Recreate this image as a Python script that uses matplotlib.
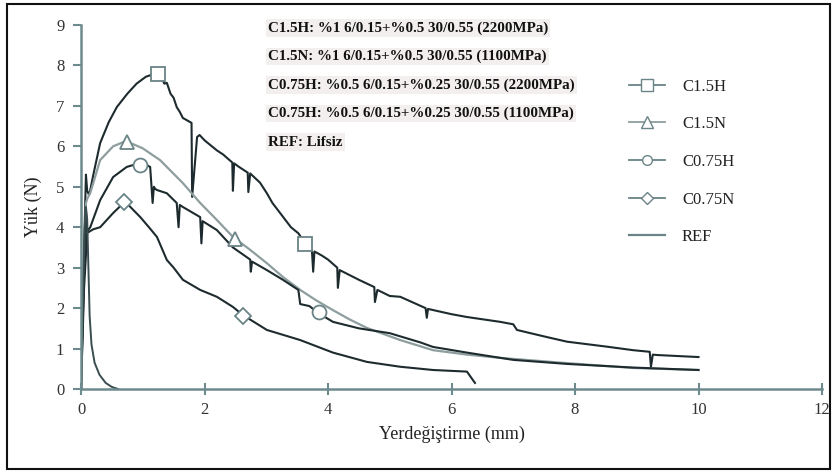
import matplotlib
matplotlib.use("Agg")
import matplotlib.pyplot as plt
from matplotlib.lines import Line2D
from matplotlib.patches import Rectangle

# ---------------- data ----------------
c15h_x = [0, 0.05, 0.08, 0.1, 0.13, 0.15, 0.2, 0.31, 0.45, 0.58, 0.75, 0.9, 1.05, 1.2, 1.25, 1.3, 1.35,
          1.39, 1.45, 1.5, 1.55, 1.6, 1.65, 1.71, 1.79, 1.8, 1.88, 1.92, 2.0, 2.2, 2.3, 2.45, 2.46, 2.48,
          2.55, 2.65, 2.7, 2.71, 2.74, 2.9, 3.01, 3.1, 3.27, 3.4, 3.52, 3.63, 3.74, 3.76, 3.78, 3.9, 4.0,
          4.15, 4.16, 4.19, 4.5, 4.75, 4.76, 4.8, 5.0, 5.17, 5.58, 5.6, 5.62, 6.0, 6.25, 6.79, 7.0, 7.06,
          7.5, 7.87, 8.5, 8.94, 9.21, 9.23, 9.26, 9.33, 10.0]
c15h_y = [0, 3.5, 5.3, 4.9, 4.8, 4.92, 5.3, 6.08, 6.6, 6.97, 7.3, 7.55, 7.72, 7.8, 7.78, 7.7, 7.55,
          7.57, 7.3, 7.2, 6.97, 6.85, 6.7, 6.65, 6.58, 4.75, 6.23, 6.28, 6.15, 5.9, 5.8, 5.6, 4.9, 5.58,
          5.5, 5.4, 5.35, 4.87, 5.33, 5.1, 4.84, 4.6, 4.26, 4.0, 3.85, 3.6, 3.42, 2.9, 3.4, 3.3, 3.2,
          3.0, 2.5, 2.94, 2.7, 2.52, 2.15, 2.45, 2.3, 2.28, 2.0, 1.76, 1.98, 1.85, 1.78, 1.66, 1.6, 1.46,
          1.3, 1.17, 1.05, 0.96, 0.92, 0.55, 0.85, 0.84, 0.79]

c15n_x = [0, 0.05, 0.08, 0.1, 0.15, 0.2, 0.31, 0.52, 0.71, 0.85, 1.0, 1.28, 1.65, 1.93, 2.2, 2.46,
          2.74, 3.01, 3.27, 3.55, 3.8, 4.08, 4.35, 4.63, 5.17, 5.7, 6.25, 6.79, 7.87, 8.94, 10.0]
c15n_y = [0, 3.0, 4.6, 4.7, 4.85, 5.1, 5.66, 6.0, 6.12, 6.05, 5.95, 5.66, 5.09, 4.6, 4.18, 3.76,
          3.44, 3.11, 2.77, 2.45, 2.2, 1.95, 1.72, 1.51, 1.21, 0.96, 0.85, 0.77, 0.64, 0.52, 0.47]

c075h_x = [0, 0.05, 0.08, 0.1, 0.15, 0.31, 0.52, 0.74, 0.96, 1.05, 1.12, 1.16, 1.18, 1.2, 1.23, 1.39,
           1.55, 1.58, 1.6, 1.65, 1.93, 1.95, 1.97, 2.2, 2.46, 2.74, 2.75, 2.77, 3.01, 3.27, 3.52, 3.55,
           3.7, 3.84, 4.08, 4.5, 5.0, 5.5, 5.7, 6.25, 6.79, 7.0, 7.87, 8.94, 10.0]
c075h_y = [0, 3.0, 4.4, 3.9, 4.0, 4.67, 5.24, 5.49, 5.59, 5.55, 5.49, 4.6, 5.0, 4.95, 4.92, 4.84,
           4.6, 4.0, 4.55, 4.5, 4.25, 3.6, 4.15, 3.93, 3.5, 3.2, 2.9, 3.15, 2.94, 2.7, 2.45, 2.1,
           2.05, 1.88, 1.66, 1.5, 1.38, 1.15, 1.04, 0.9, 0.77, 0.72, 0.62, 0.53, 0.47]

c075n_x = [0, 0.05, 0.1, 0.2, 0.31, 0.52, 0.71, 0.8, 0.96, 1.1, 1.23, 1.39, 1.5, 1.65, 1.93, 2.2,
           2.46, 2.62, 3.01, 3.55, 4.08, 4.63, 5.17, 5.7, 6.25, 6.38]
c075n_y = [0, 2.5, 3.86, 3.95, 4.0, 4.35, 4.63, 4.5, 4.25, 4.0, 3.76, 3.19, 3.0, 2.7, 2.45, 2.28,
           2.03, 1.83, 1.46, 1.21, 0.9, 0.67, 0.55, 0.47, 0.43, 0.15]

ref_x = [0, 0.03, 0.06, 0.08, 0.1, 0.12, 0.14, 0.17, 0.22, 0.3, 0.4, 0.5, 0.6]
ref_y = [0, 2.0, 4.0, 4.5, 4.2, 3.0, 1.8, 1.1, 0.65, 0.35, 0.15, 0.05, 0.0]

# marker positions
c15h_mx, c15h_my = [1.25, 3.63], [7.78, 3.58]
c15n_mx, c15n_my = [0.75, 2.5], [6.1, 3.7]
c075h_mx, c075h_my = [0.95, 3.85], [5.55, 1.9]
c075n_mx, c075n_my = [0.7, 2.62], [4.62, 1.8]

labels = ["C1.5H", "C1.5N", "C0.75H", "C0.75N", "REF"]
notes = ["C1.5H: %1 6/0.15+%0.5 30/0.55 (2200MPa)",
         "C1.5N: %1 6/0.15+%0.5 30/0.55 (1100MPa)",
         "C0.75H: %0.5 6/0.15+%0.25 30/0.55 (2200MPa)",
         "C0.75H: %0.5 6/0.15+%0.25 30/0.55 (1100MPa)",
         "REF: Lifsiz"]
xticks = [0, 2, 4, 6, 8, 10, 12]
yticks = list(range(0, 10))

# ---------------- style ----------------
serif = ["Liberation Serif", "DejaVu Serif"]
plt.rcParams['font.family'] = serif
axis_col = "#6d8a8d"
dark = "#1d2b2e"
gray = "#8e9d9e"
mk_col = "#6a8487"

fig = plt.figure(figsize=(8.33, 4.72), dpi=100)
ax = fig.add_axes([81/833, 1-389/472, (822-81)/833, (389-25)/472])

ax.plot(c15h_x, c15h_y, color=dark, lw=1.5)
ax.plot(c15n_x, c15n_y, color=gray, lw=1.6)
ax.plot(c075h_x, c075h_y, color=dark, lw=1.5)
ax.plot(c075n_x, c075n_y, color=dark, lw=1.5)
ax.plot(ref_x, ref_y, color="#3a4d50", lw=1.4)

mk = dict(ls="none", mfc="white", mec=mk_col, mew=1.3, ms=10, zorder=5)
ax.plot(c15h_mx, c15h_my, marker="s", **mk)
ax.plot(c15n_mx, c15n_my, marker="^", **mk)
ax.plot(c075h_mx, c075h_my, marker="o", **mk)
ax.plot(c075n_mx, c075n_my, marker="D", **{**mk, "ms": 8})

ax.set_xlim(0, 12)
ax.set_ylim(0, 9)
ax.set_xticks(xticks)
ax.set_yticks(yticks)
ax.spines['top'].set_visible(False)
ax.spines['right'].set_visible(False)
for s in ['left', 'bottom']:
    ax.spines[s].set_color(axis_col)
    ax.spines[s].set_linewidth(1.8)
ax.tick_params(axis='x', direction='inout', length=8, width=1.5, color=axis_col,
               labelsize=12, labelcolor="#333333", pad=5)
ax.tick_params(axis='y', direction='out', length=6, width=1.5, color=axis_col,
               labelsize=12, labelcolor="#333333", pad=6)
ax.set_xlabel("Yerdeğiştirme (mm)", fontsize=13, color="#222222", labelpad=6)
ax.set_ylabel("Yük (N)", fontsize=13, color="#222222", labelpad=10)

# legend
handles = [
    Line2D([], [], color=mk_col, lw=1.3, marker="s", mfc="white", mec=mk_col, ms=8),
    Line2D([], [], color=gray, lw=1.3, marker="^", mfc="white", mec=mk_col, ms=8),
    Line2D([], [], color=mk_col, lw=1.3, marker="o", mfc="white", mec=mk_col, ms=7),
    Line2D([], [], color=mk_col, lw=1.3, marker="D", mfc="white", mec=mk_col, ms=6),
    Line2D([], [], color=mk_col, lw=1.6),
]
leg = fig.legend(handles, labels, loc="upper left", bbox_to_anchor=(622/833, 1-72/472),
                 frameon=False, fontsize=12, labelspacing=1.3, handlelength=2.2,
                 handletextpad=1.0, borderaxespad=0)
for t in leg.get_texts():
    t.set_color("#222222")

# notes
for i, s in enumerate(notes):
    fig.text(268/833, 1-(28 + 28.5*i)/472, s, fontsize=10.8, fontweight="bold",
             ha="left", va="center", color="#111111",
             bbox=dict(facecolor="#f4efef", edgecolor="none", pad=1.5))

# outer frame
fig.patches.append(Rectangle((7/833, 3/472), 823/833, 465/472, transform=fig.transFigure,
                             fill=False, edgecolor="#111111", lw=1.5))

fig.savefig("out.png", dpi=100)
